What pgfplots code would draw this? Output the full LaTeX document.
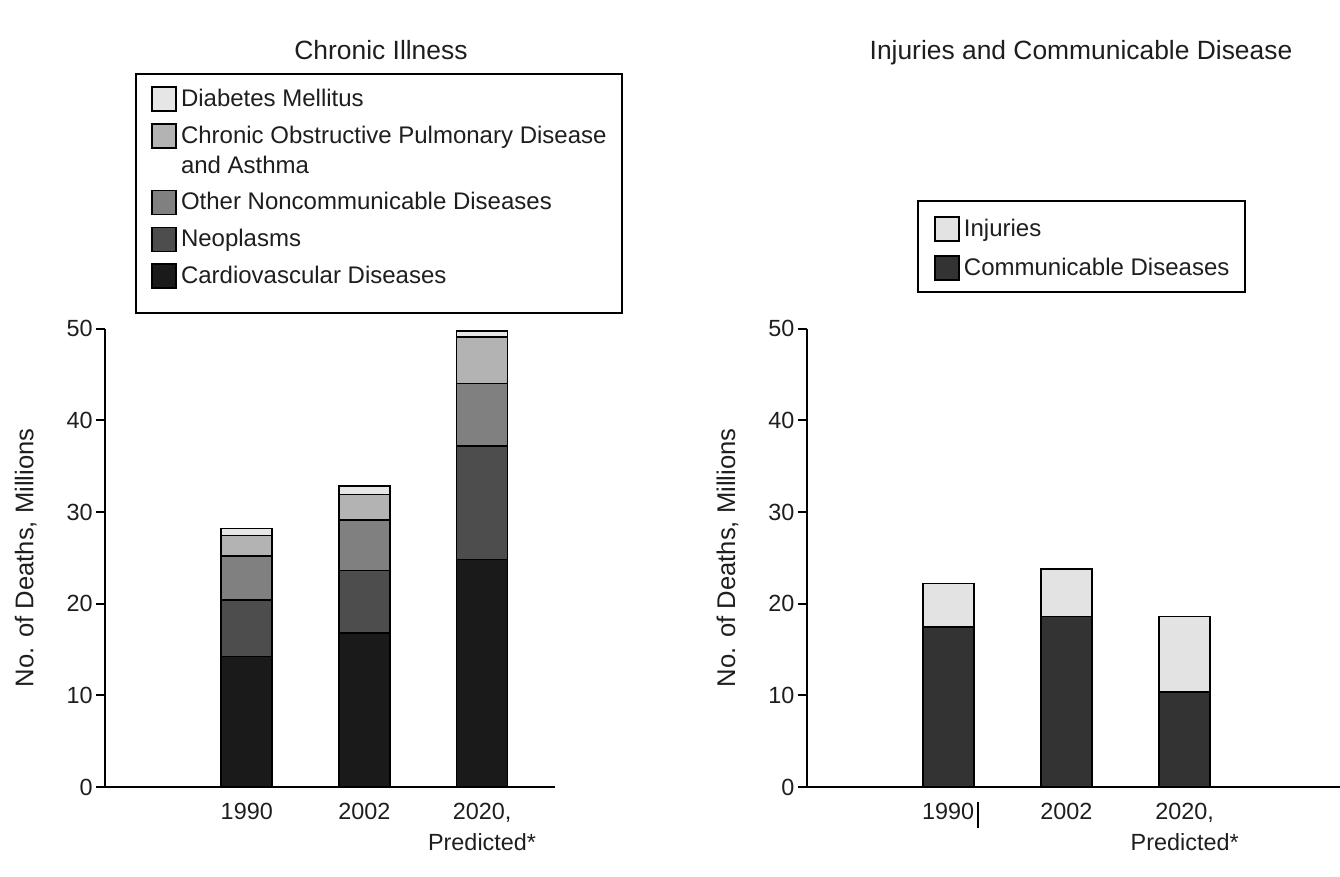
\documentclass[border=0pt]{standalone}
\usepackage{pgfplots}
\pgfplotsset{compat=1.18}
\usepackage{fontspec}
\setmainfont{Liberation Sans}

\definecolor{cardio}{HTML}{1A1A1A}
\definecolor{neo}{HTML}{4D4D4D}
\definecolor{noncomm}{HTML}{808080}
\definecolor{copd}{HTML}{B3B3B3}
\definecolor{diab}{HTML}{E6E6E6}
\definecolor{comm}{HTML}{333333}
\definecolor{injury}{HTML}{E3E3E3}
\definecolor{ink}{HTML}{1E1E1E}

% 1 px of the reference = 0.5pt
\pgfplotsset{
  deaths/.style={
    scale only axis,
    height=229.2pt,
    anchor=south west,
    ybar stacked,
    bar width=25.5pt,
    axis lines=left,
    axis line style={-, line width=1pt, black},
    ymin=0, ymax=50,
    ytick={0,10,20,30,40,50},
    xtick={1,2,3},
    xticklabels={1990,2002,{2020,\\Predicted*}},
    tick align=outside,
    major tick length=4.5pt,
    ytick style={line width=1pt, black},
    xtick style={draw=none},
    /pgf/number format/assume math mode=true,
    tick label style={font=\fontsize{11.7}{15.5}\selectfont, text=ink},
    yticklabel style={inner xsep=1.5pt},
    xticklabel style={align=center},
    ylabel={No. of Deaths, Millions},
    ylabel style={font=\fontsize{12.8}{15}\selectfont, text=ink, anchor=base},
    title style={font=\fontsize{13.2}{16}\selectfont, text=ink, anchor=base},
    every axis plot/.append style={draw=black, line width=0.8pt},
    reverse legend,
    legend image code/.code={
      \path (0pt,0pt);
      \draw[##1, line width=0.8pt] (2.2pt,-2.3pt) rectangle (14.2pt,9.7pt);
    },
    legend style={draw=black, line width=1pt, anchor=north west,
      font=\fontsize{12}{15}\selectfont, text=ink,
      cells={anchor=base west, align=left}},
    clip=false,
  },
  % square beside the first of two lines
  raisedsq/.style={
    legend image code/.code={
      \path (0pt,0pt);
      \draw[##1, line width=0.8pt] (2.2pt,12.7pt) rectangle (14.2pt,24.7pt);
    }
  }
}

\begin{document}
\begin{tikzpicture}
\useasboundingbox (0pt,0pt) rectangle (670pt,438.5pt);

% Chronic illness
\begin{axis}[deaths,
    at={(52.5pt,45pt)}, width=225pt,
    xmin=-0.205, xmax=3.62,
    title={Chronic Illness},
    title style={at={(axis description cs:0.6133,1.5613)}},
    ylabel style={at={(axis description cs:-0.1593,0.5)}},
    legend style={at={(axis description cs:0.0667,1.5569)},
      inner xsep=5.5pt, inner ysep=3.5pt, row sep=2.4pt},
  ]
\addlegendimage{empty legend}
\addlegendentry{\mbox{}}
\addplot[fill=cardio] coordinates {(1,14.25) (2,16.8) (3,24.8)};
\addlegendentry{\strut Cardiovascular Diseases}
\addplot[fill=neo] coordinates {(1,6.15) (2,6.8) (3,12.4)};
\addlegendentry{\strut Neoplasms}
\addplot[fill=noncomm] coordinates {(1,4.8) (2,5.5) (3,6.8)};
\addlegendentry{\strut Other Noncommunicable Diseases}
\addplot[fill=copd, raisedsq] coordinates {(1,2.25) (2,2.8) (3,5.1)};
\addlegendentry{\strut Chronic Obstructive Pulmonary Disease\\\strut and Asthma}
\addplot[fill=diab] coordinates {(1,0.75) (2,0.95) (3,0.65)};
\addlegendentry{\strut Diabetes Mellitus}
\end{axis}

% Injuries and communicable disease
\begin{axis}[deaths,
    at={(403.35pt,45pt)}, width=266.5pt,
    xmin=-0.197, xmax=4.311,
    title={Injuries and Communicable Disease},
    title style={at={(axis description cs:0.5146,1.5613)}},
    ylabel style={at={(axis description cs:-0.1345,0.5)}},
    legend style={at={(axis description cs:0.2069,1.2799)},
      inner xsep=6pt, inner ysep=5pt, row sep=3.5pt},
  ]
\addplot[fill=comm] coordinates {(1,17.45) (2,18.6) (3,10.35)};
\addlegendentry{\strut Communicable Diseases}
\addplot[fill=injury] coordinates {(1,4.75) (2,5.2) (3,8.25)};
\addlegendentry{\strut Injuries}
\draw[line width=1pt, black] (axis cs:1.252,-1.6) -- (axis cs:1.252,-4.5);
\end{axis}
\end{tikzpicture}
\end{document}
